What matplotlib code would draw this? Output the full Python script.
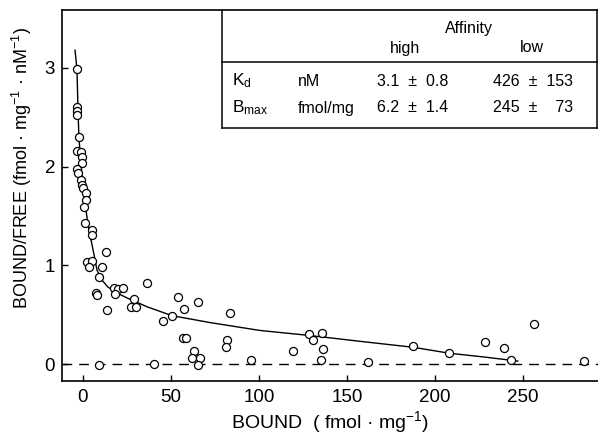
"""Scatchard plot of specific binding with a two-site fit and parameter table."""

import matplotlib

matplotlib.use("Agg")
import matplotlib.pyplot as plt
from matplotlib.lines import Line2D

plt.rcParams["font.family"] = ["Liberation Sans", "DejaVu Sans"]
plt.rcParams["mathtext.fontset"] = "custom"
plt.rcParams["mathtext.rm"] = "Liberation Sans"
plt.rcParams["mathtext.it"] = "Liberation Sans:italic"
plt.rcParams["mathtext.bf"] = "Liberation Sans:bold"

# measured points: bound (fmol/mg) and bound/free (fmol/mg/nM)
bound = [
    -3.4, -3.4, -3.4, -3.4, -2.3, -3.4, -1.1, -0.6, -0.6, -3.4, -2.8, -1.1,
    -0.6, 0.0, 1.7, 1.7, 0.6, 1.1, 5.1, 5.1, 13.1, 2.3, 5.1, 3.4, 10.8, 9.1,
    7.4, 8.0, 13.6, 17.6, 19.9, 22.7, 18.2, 29.0, 27.3, 30.1, 36.4, 45.5,
    50.6, 54.0, 57.4, 65.3, 83.5, 56.8, 58.5, 63.1, 61.9, 66.5, 65.3, 81.8,
    81.3, 9.1, 40.3, 95.5, 119.3, 128.4, 130.7, 135.8, 136.4, 135.2, 161.9,
    187.5, 207.9, 228.4, 239.2, 243.2, 256.3, 284.7,
]
bound_free = [
    2.99, 2.60, 2.56, 2.52, 2.30, 2.16, 2.15, 2.10, 2.04, 1.98, 1.94, 1.86,
    1.81, 1.78, 1.73, 1.66, 1.59, 1.43, 1.36, 1.31, 1.13, 1.03, 1.04, 0.98,
    0.98, 0.88, 0.72, 0.70, 0.55, 0.77, 0.76, 0.77, 0.71, 0.66, 0.58, 0.58,
    0.82, 0.44, 0.49, 0.68, 0.56, 0.63, 0.52, 0.26, 0.26, 0.13, 0.06, 0.06,
    -0.01, 0.24, 0.17, -0.01, 0.00, 0.04, 0.13, 0.30, 0.24, 0.31, 0.15, 0.04,
    0.02, 0.18, 0.11, 0.22, 0.16, 0.04, 0.41, 0.03,
]

# two-site fit curve
fit_bound = [
    -4.5, -3.4, -2.8, -2.3, -1.1, 0.0, 1.1, 3.4, 5.7, 8.0, 10.8, 14.2, 19.3,
    25.0, 36.4, 50.6, 72.2, 100.6, 128.4, 157.4, 187.5, 207.9, 228.4, 247.0,
]
fit_bound_free = [
    3.18, 2.99, 2.57, 2.30, 2.02, 1.81, 1.63, 1.36, 1.16, 0.95, 0.85, 0.78,
    0.72, 0.67, 0.58, 0.49, 0.42, 0.34, 0.29, 0.23, 0.17, 0.11, 0.07, 0.03,
]

x_ticks = [0, 50, 100, 150, 200, 250]
y_ticks = [0, 1, 2, 3]

# parameter table
param_names = ["K$_{\\rm d}$", "B$_{\\rm max}$"]
param_units = ["nM", "fmol/mg"]
high_vals = ["3.1  \u00b1  0.8", "6.2  \u00b1  1.4"]
low_vals = ["426  \u00b1  153", "245  \u00b1    73"]

W, H = 598, 437


def fx(px):
    return px / W


def fy(py):
    return 1 - py / H


fig = plt.figure(figsize=(W / 100, H / 100), dpi=100)
ax = fig.add_axes([fx(62), fy(381), (598 - 62) / W, (381 - 10) / H])

ax.axhline(0, color="black", lw=1.0, dashes=(7, 5))
ax.plot(fit_bound, fit_bound_free, color="black", lw=1.0)
ax.plot(bound, bound_free, "o", ms=5.8, mfc="white", mec="black", mew=0.9)

ax.set_xlim(-11.9, 292.6)
ax.set_ylim(-0.172, 3.587)
ax.set_xticks(x_ticks)
ax.set_yticks(y_ticks)
ax.tick_params(direction="in", length=4, width=1, labelsize=13.5)
ax.tick_params(axis="x", pad=6)
ax.tick_params(axis="y", pad=5)
ax.spines["right"].set_visible(False)
for s in ("left", "bottom", "top"):
    ax.spines[s].set_linewidth(1.2)

ax.set_xlabel("BOUND  ( fmol \u00b7 mg$^{-1}$)", fontsize=14)
ax.xaxis.label.set_va("center")
ax.xaxis.set_label_coords(0.5, -(422 - 381) / 371)
ax.set_ylabel("BOUND/FREE (fmol \u00b7 mg$^{-1}$ \u00b7 nM$^{-1}$)", fontsize=13)
ax.yaxis.label.set_va("center")
ax.yaxis.set_label_coords((22 - 62) / 536, (381 - 168) / 371)

# table frame
for xs, ys in [
    ((222, 222), (10, 128)),
    ((597, 597), (10, 128)),
    ((222, 598), (62, 62)),
    ((222, 598), (128, 128)),
]:
    fig.add_artist(Line2D([fx(x) for x in xs], [fy(y) for y in ys],
                          transform=fig.transFigure, color="black", lw=1.1))

ts = 11.5
fig.text(fx(469), fy(28), "Affinity", ha="center", va="center", fontsize=ts)
fig.text(fx(405), fy(48), "high", ha="center", va="center", fontsize=ts)
fig.text(fx(532), fy(48), "low", ha="center", va="center", fontsize=ts)
for i, row_y in enumerate([81, 108]):
    fig.text(fx(232), fy(row_y), param_names[i], ha="left", va="center", fontsize=ts + 1)
    fig.text(fx(298), fy(row_y), param_units[i], ha="left", va="center", fontsize=ts)
    fig.text(fx(377), fy(row_y), high_vals[i], ha="left", va="center", fontsize=ts)
    fig.text(fx(573), fy(row_y), low_vals[i], ha="right", va="center", fontsize=ts)

fig.savefig("out.png", dpi=100)
